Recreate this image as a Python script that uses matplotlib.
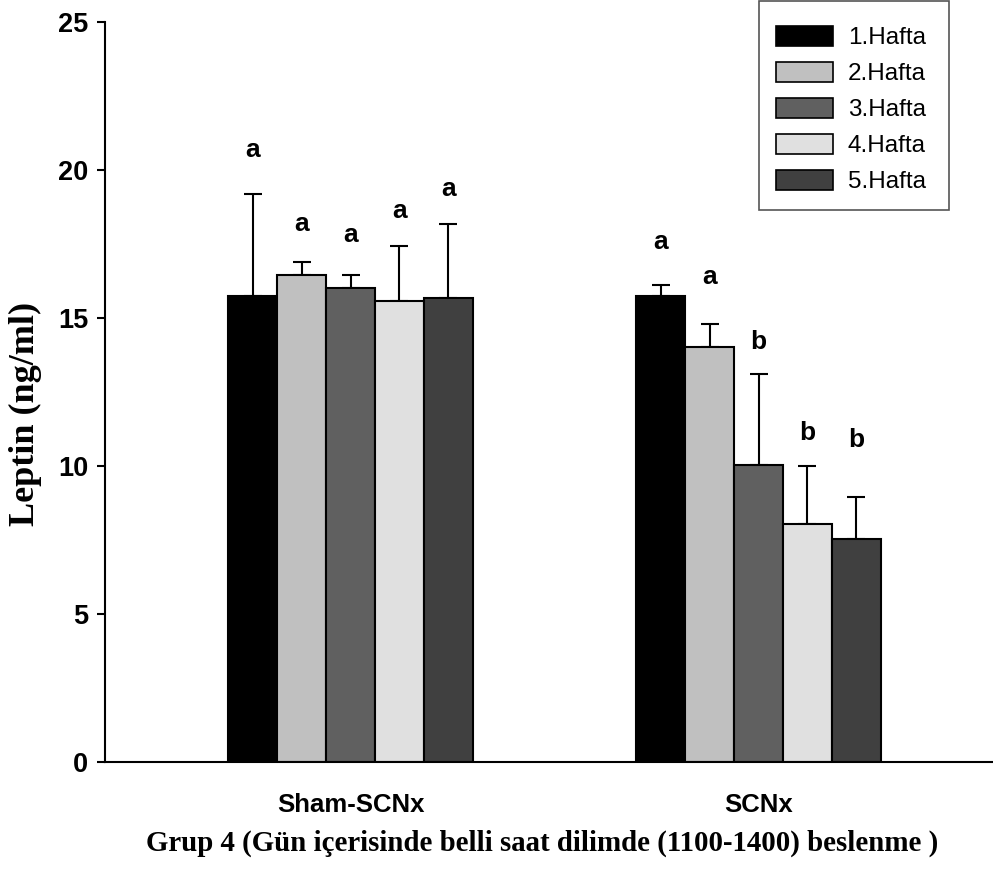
import matplotlib
matplotlib.use("Agg")
import matplotlib.pyplot as plt
from matplotlib.patches import Patch, Rectangle
import numpy as np

# Leptin levels by group and week
groups = ["Sham-SCNx", "SCNx"]
weeks = ["1.Hafta", "2.Hafta", "3.Hafta", "4.Hafta", "5.Hafta"]
sham_mean = [15.72, 16.43, 16.02, 15.56, 15.67]
sham_err = [3.47, 0.45, 0.41, 1.88, 2.49]
scnx_mean = [15.72, 14.03, 10.03, 8.03, 7.52]
scnx_err = [0.39, 0.76, 3.08, 1.98, 1.43]
sham_letters = ["a", "a", "a", "a", "a"]
scnx_letters = ["a", "a", "b", "b", "b"]
sham_letter_y = [20.68, 18.18, 17.80, 18.60, 19.36]
scnx_letter_y = [17.57, 16.39, 14.19, 11.11, 10.88]
y_ticks = [0, 5, 10, 15, 20, 25]

colors = ["#000000", "#c0c0c0", "#606060", "#e0e0e0", "#404040"]

W, H = 993, 874
fig = plt.figure(figsize=(W / 100, H / 100), dpi=100)
ax = fig.add_axes([105 / W, 1 - 762 / H, (992 - 105) / W, (762 - 21.7) / H])

sans_bold = dict(family="Liberation Sans", weight="bold")

centers = np.arange(1, len(groups) + 1)
bar_w = 0.12
means = [sham_mean, scnx_mean]
errs = [sham_err, scnx_err]
letters = [sham_letters, scnx_letters]
letter_y = [sham_letter_y, scnx_letter_y]

for g, c in enumerate(centers):
    for i in range(len(weeks)):
        x = c + (i - 2) * bar_w
        ax.bar(x, means[g][i], width=bar_w, color=colors[i], edgecolor="black",
               linewidth=1.5, zorder=2)
        ax.errorbar(x, means[g][i], yerr=[[0], [errs[g][i]]], fmt="none",
                    ecolor="black", elinewidth=1.5, capsize=6.2, capthick=1.5,
                    zorder=1)
        ax.text(x, letter_y[g][i], letters[g][i], ha="center", va="center",
                fontsize=19, **sans_bold)

ax.set_xlim(1 - 245.5 / 408, 2 + 233.5 / 408)
ax.set_ylim(0, 25)
ax.set_yticks(y_ticks)
ax.set_xticks(centers)
ax.set_xticklabels(groups, fontsize=18.5, **sans_bold)
ax.tick_params(axis="x", length=0, pad=22)
ax.tick_params(axis="y", length=6, width=1.5, pad=6, direction="out")
for lab in ax.get_yticklabels():
    lab.set_fontsize(19.5)
    lab.set_family("Liberation Sans")
    lab.set_weight("bold")

for side in ["top", "right"]:
    ax.spines[side].set_visible(False)
for side in ["left", "bottom"]:
    ax.spines[side].set_linewidth(1.5)

fig.text(25 / W, 1 - 414 / H, "Leptin (ng/ml)", rotation=90, ha="center",
         va="center", fontsize=26, family="Liberation Serif", weight="bold")
fig.text(542 / W, 1 - 843 / H,
         "Grup 4 (Gün içerisinde belli saat dilimde (1100-1400) beslenme )",
         ha="center", va="center", fontsize=20.8, family="Liberation Serif",
         weight="bold")

# Legend entries without a frame; the box is drawn separately
handles = [Patch(facecolor=col, edgecolor="black", linewidth=1.2) for col in colors]
leg = fig.legend(handles, weeks, loc="upper left",
                 bbox_to_anchor=(776 / W, 1 - 26 / H), borderaxespad=0,
                 frameon=False, borderpad=0,
                 prop=dict(family="Liberation Sans", size=17.5),
                 handlelength=2.35, handleheight=0.86, handletextpad=0.6,
                 labelspacing=0.53)
fig.patches.append(Rectangle((759 / W, 1 - 210 / H), 190 / W, 209 / H,
                             transform=fig.transFigure, fill=False,
                             edgecolor="#555555", linewidth=1.2))

fig.savefig("out.png", dpi=100)
